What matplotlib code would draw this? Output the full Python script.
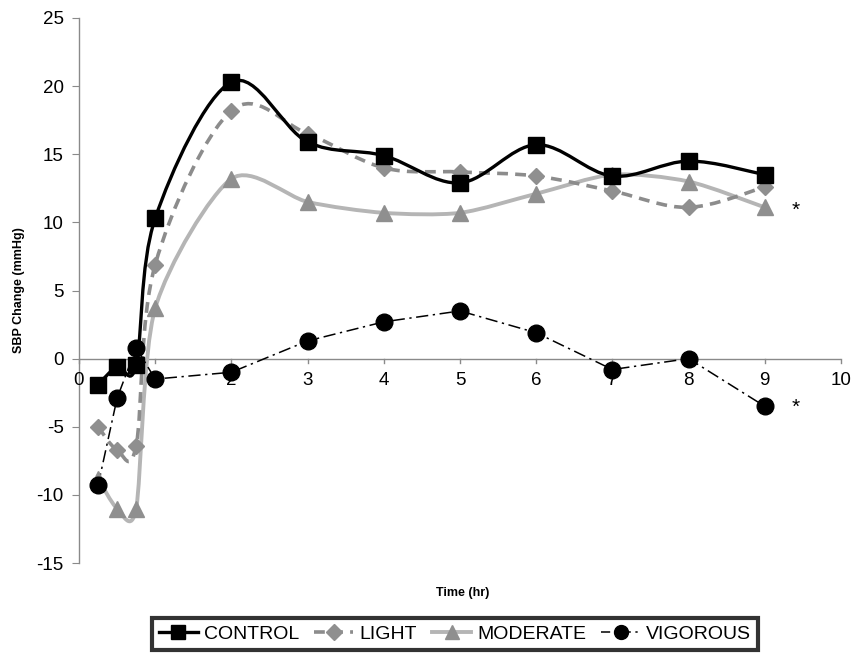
import numpy as np
import matplotlib
matplotlib.use("Agg")
import matplotlib.pyplot as plt
from matplotlib.path import Path
from matplotlib.patches import PathPatch
from matplotlib.lines import Line2D

plt.rcParams['font.family'] = ['Liberation Sans', 'DejaVu Sans']

time = [0.25, 0.5, 0.75, 1, 2, 3, 4, 5, 6, 7, 8, 9]
control = [-1.9, -0.6, -0.5, 10.3, 20.3, 15.9, 14.9, 12.9, 15.7, 13.4, 14.5, 13.5]
light = [-5.0, -6.7, -6.4, 6.9, 18.2, 16.5, 14.0, 13.7, 13.4, 12.3, 11.1, 12.6]
moderate = [-8.8, -11.0, -11.0, 3.7, 13.2, 11.5, 10.7, 10.7, 12.1, 13.5, 13.0, 11.1]
vigorous = [-9.3, -2.9, 0.8, -1.5, -1.0, 1.3, 2.7, 3.5, 1.9, -0.8, 0.0, -3.5]
x_ticks = list(range(0, 11))
y_ticks = list(range(-15, 26, 5))

fig = plt.figure(figsize=(8.51, 6.58), dpi=100)
ax = fig.add_axes([79/851, 1-563/658, (841-79)/851, (563-18)/658])
ax.set_xlim(0, 10)
ax.set_ylim(-15, 25)


def smooth_path(xs, ys, k=6.0):
    p = np.column_stack([xs, ys]).astype(float)
    n = len(p)
    verts = [p[0]]
    codes = [Path.MOVETO]
    for i in range(n - 1):
        p0 = p[i - 1] if i > 0 else p[i]
        p1 = p[i]
        p2 = p[i + 1]
        p3 = p[i + 2] if i + 2 < n else p[i + 1]
        c1 = p1 + (p2 - p0) / k
        c2 = p2 - (p3 - p1) / k
        verts += [c1, c2, p2]
        codes += [Path.CURVE4] * 3
    return Path(verts, codes)


ctrl_col = 'black'
light_col = '#8c8c8c'
mod_col = '#b5b5b5'

ax.add_patch(PathPatch(smooth_path(time, moderate, 7.5), fill=False, edgecolor=mod_col, lw=2.8, zorder=2))
ax.add_patch(PathPatch(smooth_path(time, light), fill=False, edgecolor=light_col, lw=2.6,
                       linestyle=(0, (3, 2)), zorder=3))
ax.add_patch(PathPatch(smooth_path(time, control), fill=False, edgecolor=ctrl_col, lw=2.4, zorder=4))
ax.plot(time, vigorous, color='black', lw=1.1, linestyle=(0, (8, 3, 1.5, 3)), zorder=5)

ax.plot(time, moderate, linestyle='none', marker='^', ms=11, color='#8f8f8f', zorder=6)
ax.plot(time, light, linestyle='none', marker='D', ms=8.5, color='#8f8f8f', zorder=7)
ax.plot(time, control, linestyle='none', marker='s', ms=11, color='black', zorder=8)
ax.plot(time, vigorous, linestyle='none', marker='o', ms=12, color='black', zorder=9)

for s in ['top', 'right', 'bottom']:
    ax.spines[s].set_visible(False)
ax.spines['left'].set_color('#8a8a8a')
ax.spines['left'].set_linewidth(1.0)
ax.axhline(0, color='#8a8a8a', lw=1.0, zorder=1)
ax.set_yticks(y_ticks)
ax.set_yticklabels([str(v) for v in y_ticks], fontsize=13.5)
ax.tick_params(axis='y', direction='out', length=5, color='#8a8a8a', pad=6)
ax.set_xticks([])
for t in x_ticks:
    ax.plot([t, t], [0, -0.35], color='#8a8a8a', lw=1.0, clip_on=False, zorder=1)
    ax.text(t, -1.0, str(t), ha='center', va='top', fontsize=13.5)

ax.set_ylabel('SBP Change (mmHg)', fontsize=9, fontweight='bold', labelpad=8)
fig.text(463/851, 1-593/658, 'Time (hr)', ha='center', va='center', fontsize=9, fontweight='bold')

ax.text(9.4, 10.9, '*', ha='center', va='center', fontsize=15)
ax.text(9.4, -3.6, '*', ha='center', va='center', fontsize=15)

handles = [
    Line2D([], [], color='black', lw=2.4, marker='s', ms=10),
    Line2D([], [], color=light_col, lw=2.6, linestyle=(0, (3, 2)), marker='D', ms=8, markerfacecolor='#8f8f8f', markeredgecolor='#8f8f8f'),
    Line2D([], [], color=mod_col, lw=2.8, marker='^', ms=10, markerfacecolor='#8f8f8f', markeredgecolor='#8f8f8f'),
    Line2D([], [], color='black', lw=1.1, linestyle=(0, (6, 3, 1.5, 3)), marker='o', ms=10),
]
leg = fig.legend(handles, ['CONTROL', 'LIGHT', 'MODERATE', 'VIGOROUS'], loc='center',
                 bbox_to_anchor=(455/851, 1-634/658), ncol=4, fontsize=14, frameon=True,
                 fancybox=False, handlelength=2.0, handletextpad=0.3, columnspacing=0.8,
                 borderpad=0.35)
leg.get_frame().set_edgecolor('black')
leg.get_frame().set_linewidth(3)

fig.savefig('out.png', dpi=100)
